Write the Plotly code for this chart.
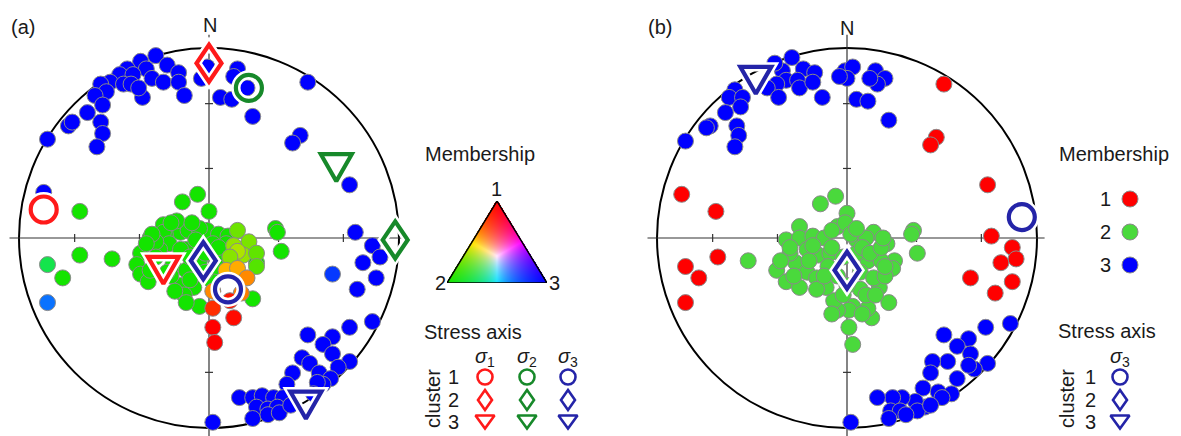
import numpy as np
import plotly.graph_objects as go

# ---------------------------------------------------------------------------
# Page geometry (px) and stereonet layout
# ---------------------------------------------------------------------------
W, H = 1181, 436
R = 190.0                 # stereonet radius in px
CA = (209.0, 238.0)       # centre of net (a)
CB = (847.0, 238.0)       # centre of net (b)
SPLIT = 590.0             # boundary between the two panels

# ---------------------------------------------------------------------------
# Data: poles in lower-hemisphere equal-area projection, unit-circle
# coordinates (east, north)
# ---------------------------------------------------------------------------
# (a) fuzzy clustering -- points fully in cluster 3
A_BLUE_E = [-0.28, -0.36, -0.22, -0.16, -0.43, -0.33, -0.47, -0.40, -0.30, -0.24,
            -0.16, -0.52, -0.57, -0.45, -0.41, -0.54, -0.60, -0.13, -0.35, -0.56,
            -0.64, -0.74, -0.72, -0.57, -0.56, -0.85, -0.59, -0.37, -0.01, -0.04,
            0.15, 0.13, 0.20, 0.06, 0.12, 0.23, 0.52, 0.48, 0.44, 0.74, -0.87,
            0.77, 0.86, 0.90, 0.81, 0.88, 0.78, 0.86, 0.74, 0.52, 0.65,
            0.60, 0.65, 0.74, 0.68, 0.49, 0.53, 0.44, 0.58, 0.64, 0.60,
            0.41, 0.16, 0.23, 0.28, 0.34, 0.39, 0.25, 0.31, 0.36, 0.23,
            0.31, 0.37, 0.43, 0.57, 0.55, 0.02]
A_BLUE_N = [0.96, 0.93, 0.91, 0.87, 0.89, 0.89, 0.86, 0.86, 0.84, 0.82,
            0.82, 0.82, 0.81, 0.81, 0.81, 0.77, 0.75, 0.75, 0.74, 0.70,
            0.66, 0.59, 0.61, 0.61, 0.55, 0.52, 0.48, 0.79, 0.90, 0.84,
            0.89, 0.85, 0.79, 0.74, 0.73, 0.64, 0.82, 0.54, 0.50, 0.28, 0.24,
            0.03, -0.04, -0.10, -0.13, -0.21, -0.27, -0.44, -0.47, -0.51, -0.52,
            -0.56, -0.61, -0.65, -0.68, -0.63, -0.66, -0.71, -0.71, -0.74, -0.77,
            -0.77, -0.84, -0.84, -0.83, -0.84, -0.84, -0.89, -0.90, -0.89, -0.95,
            -0.93, -0.92, -0.88, -0.76, -0.82, -0.97]

# (a) points fully in cluster 2
A_GREEN_E = [-0.68, -0.14, -0.06, 0.00, -0.31, -0.68, -0.51, -0.77,
             -0.24, -0.19, -0.15, -0.23, -0.11, -0.05, -0.01, 0.05, 0.10, -0.24,
             -0.21, -0.05, -0.36, -0.38, -0.36, -0.32, -0.19, -0.12, -0.08, -0.05,
             -0.12, -0.05, 0.02, 0.09, 0.13, -0.15, -0.26, -0.15, 0.01, 0.06,
             -0.31, -0.07, 0.23, 0.35, 0.36, 0.38, 0.25, -0.17, -0.28, -0.10,
             -0.02, -0.20, 0.04, -0.13, -0.30, -0.20, -0.28, -0.22, -0.10, -0.02,
             0.05, -0.18, -0.12, -0.33, -0.09]
A_GREEN_N = [0.14, 0.19, 0.23, 0.14, 0.00, -0.09, -0.11, -0.21,
             0.07, 0.04, 0.03, 0.02, 0.04, 0.04, 0.04, 0.02, 0.01, 0.03,
             -0.03, 0.05, -0.08, -0.14, -0.19, -0.23, -0.14, -0.17, -0.26, -0.36,
             -0.06, -0.12, -0.03, -0.03, -0.10, -0.06, -0.06, -0.25, -0.22, -0.09,
             -0.17, -0.01, -0.32, 0.05, 0.03, -0.07, -0.13, 0.09, -0.02, -0.10,
             -0.18, -0.20, -0.15, -0.30, 0.02, 0.08, -0.10, -0.18, -0.22, -0.08,
             -0.05, -0.28, -0.34, -0.03, 0.08]

# (a) points with shared membership (u1, u2, u3)
A_MIX_E = [-0.85, -0.85, 0.65, 0.15, 0.21, 0.13, 0.18, 0.15, 0.11, 0.25, 0.25,
           0.09, 0.15, 0.20, 0.02, 0.17, 0.11, 0.02, 0.13, 0.02, 0.03]
A_MIX_N = [-0.14, -0.34, -0.19, 0.04, -0.02, -0.04, -0.09, -0.07, -0.10, -0.08, -0.15,
           -0.17, -0.16, -0.21, -0.28, -0.29, -0.33, -0.37, -0.42, -0.47, -0.55]
A_MIX_U1 = [0.0, 0.0, 0.0, 0.35, 0.4, 0.5, 0.5, 0.6, 0.45, 0.3, 0.25,
            1.0, 1.0, 1.0, 1.0, 1.0, 1.0, 1.0, 1.0, 1.0, 1.0]
A_MIX_U2 = [1.0, 0.5, 0.25, 1.0, 1.0, 1.0, 1.0, 1.0, 1.0, 1.0, 1.0,
            0.8, 0.75, 0.6, 0.6, 0.55, 0.1, 0.2, 0.05, 0.0, 0.0]
A_MIX_U3 = [0.3, 1.0, 1.0, 0.0, 0.0, 0.0, 0.0, 0.0, 0.0, 0.0, 0.0,
            0.0, 0.0, 0.0, 0.0, 0.0, 0.0, 0.0, 0.0, 0.0, 0.0]

# (a) principal stress axes, one entry per cluster 1..3
A_S1_E = [-0.87, 0.00, -0.24]
A_S1_N = [0.15, 0.92, -0.17]
A_S2_E = [0.21, 0.98, 0.67]
A_S2_N = [0.79, -0.01, 0.37]
A_S3_E = [0.10, -0.03, 0.51]
A_S3_N = [-0.27, -0.12, -0.88]

# (b) hard clustering
B_RED_E = [0.51, 0.47, 0.44, 0.74, -0.87, -0.69, -0.68, -0.85, -0.78, -0.85,
           0.76, 0.87, 0.81, 0.89, 0.65, 0.87, 0.78]
B_RED_N = [0.81, 0.53, 0.49, 0.28, 0.23, 0.14, -0.10, -0.15, -0.21, -0.34,
           0.01, -0.05, -0.13, -0.11, -0.21, -0.23, -0.29]

B_GREEN_E = [-0.14, -0.06, 0.00, -0.52, 0.35, 0.34, 0.37,
             -0.32, -0.25, -0.25, -0.18, -0.12, -0.05, -0.01, 0.05, 0.14, 0.21,
             0.25, 0.24, 0.16, 0.11, 0.17, 0.22, 0.13, 0.11, 0.03, 0.01,
             -0.05, -0.07, -0.11, 0.01, 0.03, -0.37, -0.32, -0.25, -0.27, -0.21,
             -0.16, -0.15, -0.21, -0.09, 0.07, 0.14, 0.07, -0.16, -0.05, 0.00,
             -0.10, 0.05, 0.18, 0.10, -0.30, 0.02, -0.08, 0.10, 0.20, -0.02,
             -0.30, -0.35, -0.28, -0.20, -0.12, -0.08, 0.08, 0.12, 0.18, 0.20,
             0.15, 0.08, -0.02, -0.08, -0.18, 0.05, 0.19]
B_GREEN_N = [0.18, 0.22, 0.13, -0.12, 0.04, 0.02, -0.08,
             -0.01, 0.06, 0.00, 0.01, 0.00, 0.06, 0.08, -0.01, 0.03, -0.03,
             -0.12, -0.16, -0.08, -0.12, -0.26, -0.34, -0.42, -0.37, -0.36, -0.38,
             -0.38, -0.33, -0.26, -0.47, -0.56, -0.17, -0.23, -0.26, -0.13, -0.18,
             -0.21, -0.09, -0.06, -0.08, -0.18, -0.21, -0.27, -0.27, -0.20, -0.25,
             -0.15, -0.08, -0.12, -0.30, -0.08, 0.02, 0.04, 0.00, -0.20, -0.10,
             -0.05, -0.12, -0.20, -0.12, -0.20, -0.05, -0.05, -0.08, -0.05, -0.15,
             -0.30, -0.40, -0.30, -0.40, -0.04, 0.05, 0.00]

B_BLUE_E = [-0.29, -0.23, -0.17, -0.34, -0.38, -0.32, -0.26, -0.25, -0.18, -0.37,
            -0.42, -0.36, -0.13, -0.01, 0.03, 0.00, -0.04, 0.15, 0.20, 0.16,
            0.12, 0.05, 0.11, 0.22, -0.59, -0.62, -0.55, -0.56, -0.64, -0.58,
            -0.72, -0.74, -0.57, -0.59, -0.85,
            0.51, 0.64, 0.73, 0.86, 0.58, 0.65, 0.53, 0.45, 0.74, 0.67,
            0.64, 0.44, 0.58, 0.40, 0.48, 0.55, 0.50, 0.41, 0.36, 0.29,
            0.24, 0.16, 0.23, 0.28, 0.37, 0.31, 0.22, 0.44, 0.02]
B_BLUE_N = [0.95, 0.89, 0.87, 0.88, 0.92, 0.83, 0.83, 0.79, 0.82, 0.81,
            0.79, 0.74, 0.74, 0.88, 0.90, 0.84, 0.85, 0.88, 0.84, 0.81,
            0.84, 0.73, 0.72, 0.62, 0.78, 0.74, 0.74, 0.69, 0.66, 0.59,
            0.59, 0.58, 0.54, 0.48, 0.51,
            -0.51, -0.53, -0.47, -0.45, -0.57, -0.61, -0.65, -0.65, -0.66, -0.69,
            -0.67, -0.71, -0.74, -0.79, -0.81, -0.82, -0.84, -0.89, -0.86, -0.84,
            -0.84, -0.84, -0.91, -0.91, -0.91, -0.93, -0.95, -0.88, -0.97]

# (b) minimum stress axis per cluster
B_S3_E = [0.92, 0.00, -0.48]
B_S3_N = [0.11, -0.17, 0.83]

# ---------------------------------------------------------------------------
# Styles
# ---------------------------------------------------------------------------
FONT = "Liberation Sans, Arial, sans-serif"
FS = 20
TXT = "#1a1a1a"
COL_RED, COL_GRN, COL_BLU = "#FF1A1A", "#17892A", "#2424A8"
PT_RED, PT_GRN_B, PT_BLU = "#FF0000", "#4AD93C", "#0000FF"
EDGE = "#8a8a8a"
PT_SIZE = 16

# membership -> colour (vertex colours of the ternary key)
V1 = np.array([255.0, 0.0, 0.0])
V2 = np.array([20.0, 228.0, 0.0])
V3 = np.array([0.0, 0.0, 255.0])


def member_rgb(u1, u2, u3):
    u = np.array([u1, u2, u3], dtype=float)
    c = (u[0] * V1 + u[1] * V2 + u[2] * V3) / u.max()
    c = np.clip(c, 0, 255).round().astype(int)
    return "rgb(%d,%d,%d)" % tuple(c)


def pxlen(p):
    """Length in px -> axis units."""
    return p / R


def px2unit(px, py, c):
    return (px - c[0]) / R, (c[1] - py) / R


fig = go.Figure()

# axes: (a) on x/y, (b) on x2/y2, ternary key on x3/y3
ya_range = [(CA[1] - H) / R, CA[1] / R]
layout_axes = dict(
    xaxis=dict(domain=[0, SPLIT / W], range=[-CA[0] / R, (SPLIT - CA[0]) / R],
               visible=False, fixedrange=True),
    yaxis=dict(domain=[0, 1], range=ya_range, visible=False, fixedrange=True),
    xaxis2=dict(domain=[SPLIT / W, 1], range=[(SPLIT - CB[0]) / R, (W - CB[0]) / R],
                visible=False, fixedrange=True, anchor="y2"),
    yaxis2=dict(domain=[0, 1], range=ya_range, visible=False, fixedrange=True,
                anchor="x2"),
)

# ---------------------------------------------------------------------------
# Net frames: primitive circle, N-S / E-W lines with 30/60 deg ticks
# ---------------------------------------------------------------------------
shapes = []
TICKS = [np.sqrt(2) * np.sin(np.radians(d / 2)) for d in (30, 60)]
for xr, yr in (("x", "y"), ("x2", "y2")):
    shapes.append(dict(type="circle", xref=xr, yref=yr, x0=-1, y0=-1, x1=1, y1=1,
                       line=dict(color="black", width=2), layer="below"))
    shapes.append(dict(type="line", xref=xr, yref=yr, x0=0, x1=0, y0=1.07, y1=-1.2,
                       line=dict(color="#333", width=1.2), layer="below"))
    shapes.append(dict(type="line", xref=xr, yref=yr, x0=-1.05, x1=1.04, y0=0, y1=0,
                       line=dict(color="#333", width=1.2), layer="below"))
    for t in TICKS:
        for s in (-1, 1):
            shapes.append(dict(type="line", xref=xr, yref=yr, x0=-pxlen(4), x1=pxlen(4),
                               y0=s * t, y1=s * t, line=dict(color="#333", width=1.2),
                               layer="below"))
            shapes.append(dict(type="line", xref=xr, yref=yr, y0=-pxlen(4), y1=pxlen(4),
                               x0=s * t, x1=s * t, line=dict(color="#333", width=1.2),
                               layer="below"))


# ---------------------------------------------------------------------------
# Poles
# ---------------------------------------------------------------------------
def poles(e, n, color, xa, ya):
    fig.add_trace(go.Scatter(
        x=e, y=n, mode="markers", xaxis=xa, yaxis=ya, cliponaxis=False,
        marker=dict(size=PT_SIZE, color=color, line=dict(color=EDGE, width=1)),
        hoverinfo="skip"))


poles(A_BLUE_E, A_BLUE_N, member_rgb(0, 0, 1), "x", "y")
poles(A_GREEN_E, A_GREEN_N, member_rgb(0, 1, 0), "x", "y")
poles(A_MIX_E, A_MIX_N,
      [member_rgb(a, b, c) for a, b, c in zip(A_MIX_U1, A_MIX_U2, A_MIX_U3)], "x", "y")

poles(B_BLUE_E, B_BLUE_N, PT_BLU, "x2", "y2")
poles(B_RED_E, B_RED_N, PT_RED, "x2", "y2")
poles(B_GREEN_E, B_GREEN_N, PT_GRN_B, "x2", "y2")


# ---------------------------------------------------------------------------
# Stress-axis symbols (circle = cluster 1, diamond = 2, triangle = 3)
# ---------------------------------------------------------------------------
def diamond_xy(e, n, hw, hh):
    xs = [e, e + pxlen(hw), e, e - pxlen(hw), e, e + pxlen(hw)]
    ys = [n + pxlen(hh), n, n - pxlen(hh), n, n + pxlen(hh), n]
    return xs, ys


def tri_xy(e, n, hw, hh):
    xs = [e - pxlen(hw), e + pxlen(hw), e, e - pxlen(hw), e + pxlen(hw)]
    ys = [n + pxlen(hh), n + pxlen(hh), n - pxlen(hh), n + pxlen(hh), n + pxlen(hh)]
    return xs, ys


def stress_set(es, ns, color, xa, ya, big=True, halo=True, which=(0, 1, 2)):
    if big:
        csize, lw, dhw, dhh, thw, thh = 26, 4.2, 12.5, 18.5, 15.5, 13.5
    else:
        csize, lw, dhw, dhh, thw, thh = 15, 2.6, 7, 10, 9.5, 6.5
    layers = [("white", lw + 5)] if halo else []
    layers.append((color, lw))
    for col, w in layers:
        if 0 in which:
            fig.add_trace(go.Scatter(
                x=[es[0]], y=[ns[0]], mode="markers", xaxis=xa, yaxis=ya,
                cliponaxis=False, hoverinfo="skip",
                marker=dict(symbol="circle-open", size=csize, color=col,
                            line=dict(width=w))))
        if 1 in which:
            dx, dy = diamond_xy(es[1], ns[1], dhw, dhh)
            fig.add_trace(go.Scatter(x=dx, y=dy, mode="lines", xaxis=xa, yaxis=ya,
                                     cliponaxis=False, hoverinfo="skip",
                                     line=dict(color=col, width=w)))
        if 2 in which:
            tx, ty = tri_xy(es[2], ns[2], thw, thh)
            fig.add_trace(go.Scatter(x=tx, y=ty, mode="lines", xaxis=xa, yaxis=ya,
                                     cliponaxis=False, hoverinfo="skip",
                                     line=dict(color=col, width=w)))


stress_set(A_S2_E, A_S2_N, COL_GRN, "x", "y")
stress_set(A_S1_E, A_S1_N, COL_RED, "x", "y")
stress_set(A_S3_E, A_S3_N, COL_BLU, "x", "y")
stress_set(B_S3_E, B_S3_N, COL_BLU, "x2", "y2")

# ---------------------------------------------------------------------------
# Keys
# ---------------------------------------------------------------------------
annotations = []


def label(text, px, py, size=FS, angle=0, xanchor="center"):
    annotations.append(dict(text=text, x=px / W, y=1 - py / H, xref="paper", yref="paper",
                            showarrow=False, xanchor=xanchor, yanchor="middle",
                            textangle=angle, font=dict(family=FONT, size=size, color=TXT)))


label("(a)", 23, 27)
label("(b)", 660, 27)
label("N", 210, 25)
label("N", 847, 28)

# (a) ternary membership key
label("Membership", 480, 154)
label("1", 496, 189)
label("2", 440, 283)
label("3", 554, 283)

TRI_W, TRI_H = 100, 82
TRI_LEFT, TRI_TOP = 447, 201
layout_axes["xaxis3"] = dict(domain=[TRI_LEFT / W, (TRI_LEFT + TRI_W) / W],
                             range=[0, TRI_W], visible=False, fixedrange=True, anchor="y3")
layout_axes["yaxis3"] = dict(domain=[1 - (TRI_TOP + TRI_H) / H, 1 - TRI_TOP / H],
                             range=[TRI_H, 0], visible=False, fixedrange=True, anchor="x3")

yy, xx = np.mgrid[0:TRI_H, 0:TRI_W] + 0.5
P1 = np.array([TRI_W / 2, 0.0])
P2 = np.array([0.0, TRI_H])
P3 = np.array([TRI_W, TRI_H])
det = (P2[1] - P3[1]) * (P1[0] - P3[0]) + (P3[0] - P2[0]) * (P1[1] - P3[1])
b1 = ((P2[1] - P3[1]) * (xx - P3[0]) + (P3[0] - P2[0]) * (yy - P3[1])) / det
b2 = ((P3[1] - P1[1]) * (xx - P3[0]) + (P1[0] - P3[0]) * (yy - P3[1])) / det
b3 = 1 - b1 - b2
inside = (b1 >= -0.01) & (b2 >= -0.01) & (b3 >= -0.01)
B = np.clip(np.stack([b1, b2, b3], axis=-1), 0, 1)
mx = np.maximum(B.max(axis=-1, keepdims=True), 1e-6)
rgb = np.clip((B[..., 0:1] * V1 + B[..., 1:2] * V2 + B[..., 2:3] * V3) / mx, 0, 255)
alpha = inside.astype(float)[..., None]
img = np.concatenate([rgb, alpha], axis=-1)
fig.add_trace(go.Image(z=img, colormodel="rgba", x0=0.5, y0=0.5, dx=1, dy=1,
                       xaxis="x3", yaxis="y3", hoverinfo="skip"))
fig.add_trace(go.Scatter(x=[P1[0], P2[0], P3[0], P1[0], P2[0]],
                         y=[P1[1], P2[1], P3[1], P1[1], P2[1]],
                         mode="lines", xaxis="x3", yaxis="y3", cliponaxis=False,
                         line=dict(color="black", width=1.5), hoverinfo="skip"))

# (a) stress-axis key
label("Stress axis", 473, 332)
SIG_X_A = [485, 527, 568]
ROW_Y = [377, 400, 422]
for i, sx in enumerate(SIG_X_A):
    label("<i>σ</i><sub>%d</sub>" % (i + 1), sx, 357)
for j, ry in enumerate(ROW_Y):
    label(str(j + 1), 453, ry)
label("cluster", 433, 399, angle=-90)
for sx, col in zip(SIG_X_A, (COL_RED, COL_GRN, COL_BLU)):
    es, ns = [], []
    for ry in ROW_Y:
        e, n = px2unit(sx, ry, CA)
        es.append(e)
        ns.append(n)
    stress_set(es, ns, col, "x", "y", big=False, halo=False)

# (b) membership key
label("Membership", 1114, 154)
for k, (ry, col) in enumerate(zip([199, 232, 265], (PT_RED, PT_GRN_B, PT_BLU))):
    label(str(k + 1), 1105, ry)
    e, n = px2unit(1130, ry, CB)
    poles([e], [n], col, "x2", "y2")

# (b) stress-axis key
label("Stress axis", 1107, 331)
label("<i>σ</i><sub>3</sub>", 1120, 357)
for j, ry in enumerate(ROW_Y):
    label(str(j + 1), 1090, ry)
label("cluster", 1067, 399, angle=-90)
es, ns = [], []
for ry in ROW_Y:
    e, n = px2unit(1120, ry, CB)
    es.append(e)
    ns.append(n)
stress_set(es, ns, COL_BLU, "x2", "y2", big=False, halo=False)

fig.update_layout(
    width=W, height=H, margin=dict(l=0, r=0, t=0, b=0),
    paper_bgcolor="white", plot_bgcolor="white", showlegend=False,
    shapes=shapes, annotations=annotations, font=dict(family=FONT),
    **layout_axes)

fig.write_html("out.html")
